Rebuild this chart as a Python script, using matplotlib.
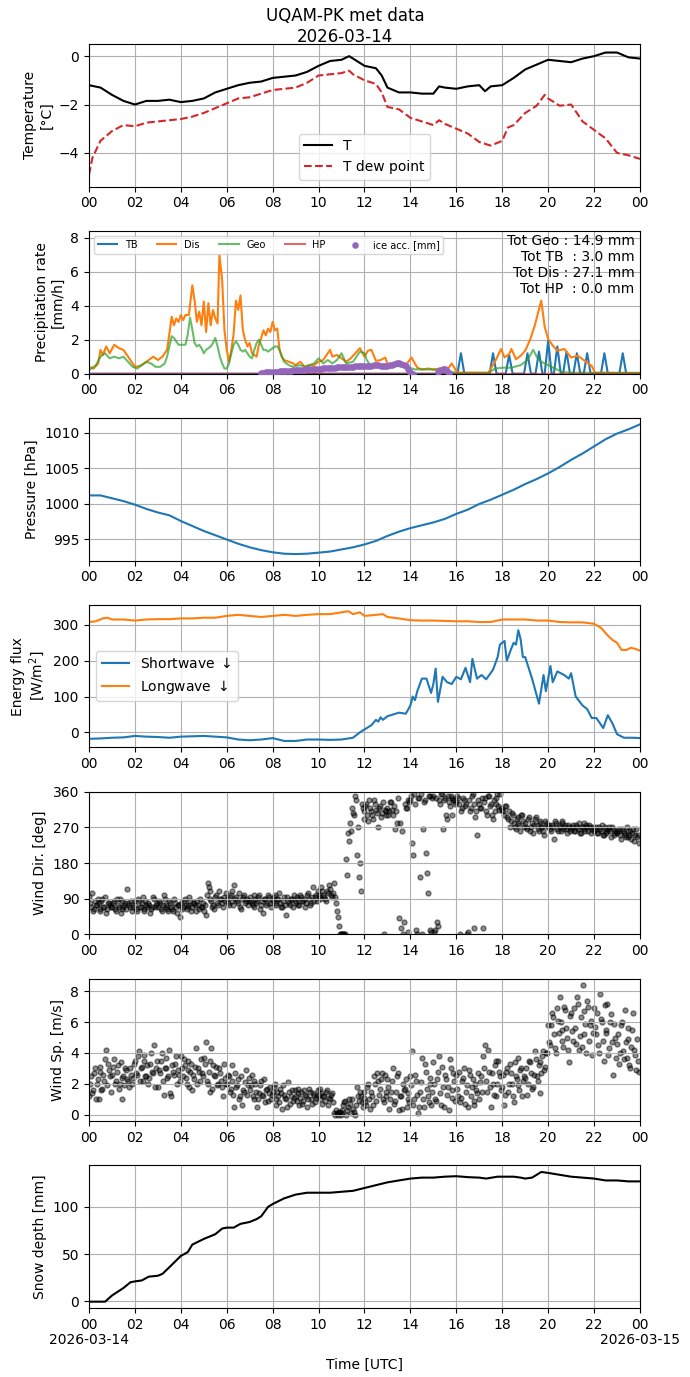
import numpy as np
import matplotlib
matplotlib.use('Agg')
import matplotlib.pyplot as plt

# ---- temperature (hours UTC) ----
temp_t = [0, 0.5, 1, 1.5, 2, 2.5, 3, 3.5, 4, 4.5, 5, 5.5, 6, 6.5, 7, 7.5, 8, 8.5, 9, 9.5,
          10, 10.5, 11, 11.33, 11.5, 12, 12.5, 12.75, 13, 13.5, 14, 14.5, 15, 15.25, 15.5,
          16, 16.5, 17, 17.25, 17.5, 18, 18.5, 19, 19.5, 20, 20.5, 21, 21.5, 22, 22.5, 23, 23.5, 24]
temp_T = [-1.2, -1.3, -1.6, -1.85, -2.0, -1.85, -1.85, -1.8, -1.9, -1.85, -1.75, -1.5, -1.35, -1.2,
          -1.1, -1.05, -0.9, -0.85, -0.8, -0.65, -0.4, -0.2, -0.15, 0.0, -0.1, -0.4, -0.5, -0.8,
          -1.3, -1.5, -1.5, -1.55, -1.55, -1.25, -1.3, -1.35, -1.25, -1.2, -1.45, -1.25, -1.2,
          -0.9, -0.55, -0.35, -0.15, -0.2, -0.25, -0.1, 0.0, 0.15, 0.15, -0.05, -0.1]
dew_t = [0, 0.15, 0.5, 1, 1.5, 2, 2.5, 3, 3.5, 4, 4.5, 5, 5.5, 6, 6.5, 7, 7.5, 8, 8.5, 9, 9.5,
         10, 10.5, 11, 11.33, 11.5, 12, 12.5, 12.75, 13, 13.5, 14, 14.5, 15, 15.25, 15.5, 16,
         16.5, 17, 17.5, 18, 18.25, 18.5, 19, 19.5, 19.85, 20, 20.5, 21, 21.5, 22, 22.5, 23, 23.5, 24]
dew_T = [-4.9, -4.2, -3.5, -3.1, -2.85, -2.9, -2.75, -2.7, -2.65, -2.6, -2.5, -2.35, -2.15, -1.95,
         -1.75, -1.7, -1.55, -1.4, -1.35, -1.3, -1.1, -0.8, -0.75, -0.7, -0.6, -0.75, -1.0, -1.15,
         -1.5, -2.1, -2.2, -2.55, -2.7, -2.85, -2.65, -2.8, -3.0, -3.2, -3.55, -3.7, -3.5, -2.95,
         -2.85, -2.35, -2.05, -1.6, -1.75, -2.05, -2.0, -2.7, -3.05, -3.4, -4.0, -4.1, -4.25]

# ---- precipitation rate [mm/h] ----
dis_t = [0.0, 0.2, 0.4, 0.5, 0.6, 0.75, 0.9, 1.1, 1.3, 1.5, 1.7, 1.9, 2.0, 2.2, 2.4, 2.6, 2.8,
         3.0, 3.2, 3.4, 3.5, 3.6, 3.7, 3.8, 3.9, 4.0, 4.1, 4.2, 4.35, 4.5, 4.6, 4.7, 4.8, 4.9,
         5.0, 5.1, 5.2, 5.3, 5.4, 5.5, 5.6, 5.68, 5.8, 5.9, 6.0, 6.1, 6.2, 6.3, 6.4, 6.5, 6.6,
         6.7, 6.8, 6.9, 7.0, 7.1, 7.2, 7.3, 7.4, 7.5, 7.6, 7.7, 7.8, 7.9, 8.0, 8.1, 8.2, 8.3,
         8.4, 8.5, 8.7, 8.9, 9.0, 9.2, 9.4, 9.6, 9.8, 10.0, 10.2, 10.4, 10.5, 10.6, 10.8, 11.0,
         11.2, 11.4, 11.6, 11.8, 12.0, 12.15, 12.3, 12.5, 12.7, 12.9, 13.0, 13.2, 13.4, 13.6,
         13.8, 14.05, 14.3, 14.5, 14.8, 15.0, 15.3, 15.6, 15.8, 16.0, 16.1, 17.4, 17.7, 17.95,
         18.1, 18.3, 18.4, 18.6, 18.8, 19.0, 19.2, 19.4, 19.7, 19.85, 20.0, 20.2, 20.4, 20.7,
         21.0, 21.3, 21.6, 21.9, 22.05, 24.0]
dis_v = [0.4, 0.3, 0.6, 1.4, 1.1, 1.6, 1.2, 1.7, 1.5, 1.4, 1.0, 0.6, 0.4, 0.45, 0.6, 0.8, 1.0,
         0.8, 1.0, 1.4, 2.35, 3.35, 2.85, 3.25, 3.05, 3.45, 3.15, 3.45, 3.45, 5.2, 4.3, 3.05, 3.65,
         2.85, 4.25, 2.45, 4.15, 2.85, 3.75, 3.25, 2.95, 7.0, 5.5, 2.55, 1.4, 0.7, 1.4, 2.35, 4.3,
         3.75, 4.6, 2.55, 2.0, 1.6, 1.8, 1.2, 1.1, 1.0, 1.7, 2.1, 2.55, 2.25, 2.65, 2.45, 3.05,
         2.55, 2.65, 1.4, 1.0, 0.8, 0.7, 0.6, 0.5, 0.7, 0.4, 0.5, 0.5, 0.7, 0.8, 1.2, 1.4, 1.0,
         1.1, 0.9, 0.7, 0.9, 1.2, 1.5, 1.0, 1.35, 1.4, 0.75, 0.8, 0.95, 0.6, 0.5, 0.7, 0.55, 0.5,
         0.95, 0.35, 0.25, 0.3, 0.25, 0.3, 0.2, 0.6, 0.15, 0.05, 0.05, 0.75, 1.45, 0.95, 1.15,
         1.45, 0.85, 1.05, 1.35, 1.95, 2.75, 4.3, 2.75, 2.05, 1.65, 1.35, 1.45, 0.95, 1.05, 0.75,
         0.45, 0.05, 0.02]
geo_t = [0.0, 0.3, 0.5, 0.7, 0.9, 1.1, 1.3, 1.5, 1.7, 1.9, 2.1, 2.3, 2.5, 2.7, 2.9, 3.1, 3.3,
         3.4, 3.5, 3.6, 3.7, 3.8, 3.9, 4.0, 4.2, 4.3, 4.4, 4.5, 4.6, 4.7, 4.8, 4.9, 5.0, 5.1,
         5.2, 5.3, 5.4, 5.5, 5.6, 5.7, 5.8, 5.9, 6.0, 6.1, 6.2, 6.3, 6.4, 6.5, 6.6, 6.7, 6.8,
         6.9, 7.0, 7.1, 7.2, 7.3, 7.4, 7.5, 7.6, 7.7, 7.8, 7.9, 8.0, 8.1, 8.2, 8.3, 8.4, 8.5,
         8.7, 8.9, 9.0, 9.2, 9.4, 9.6, 9.8, 10.0, 10.2, 10.4, 10.6, 10.8, 11.0, 11.2, 11.5,
         11.8, 12.0, 12.1, 12.3, 12.6, 13.0, 13.4, 13.8, 14.2, 14.8, 15.4, 16.0, 17.4, 17.7,
         18.0, 18.4, 18.8, 19.1, 19.35, 19.5, 19.7, 20.0, 20.3, 20.6, 21.0, 24.0]
geo_v = [0.2, 0.5, 1.0, 1.2, 0.9, 1.0, 0.9, 1.0, 0.7, 0.4, 0.3, 0.5, 0.7, 0.6, 0.4, 0.4, 0.6,
         1.0, 1.6, 2.2, 2.1, 1.9, 1.7, 1.7, 1.7, 2.3, 3.3, 2.6, 1.8, 1.6, 1.7, 1.5, 1.2, 1.4,
         1.5, 1.6, 1.8, 2.1, 1.6, 1.0, 0.6, 0.3, 0.3, 0.6, 1.2, 1.7, 1.9, 1.7, 1.4, 1.3, 1.4,
         1.2, 1.0, 0.9, 1.4, 1.8, 2.0, 1.7, 1.4, 1.4, 1.3, 1.4, 1.5, 1.6, 1.6, 1.4, 1.0, 0.7,
         0.5, 0.4, 0.45, 0.5, 0.4, 0.5, 0.6, 0.9, 0.6, 0.8, 0.6, 0.8, 1.2, 0.6, 0.7,
         1.3, 1.2, 0.8, 0.4, 0.5, 0.35, 0.45, 0.4, 0.25, 0.25, 0.2, 0.05, 0.05, 0.3,
         0.35, 0.35, 0.5, 0.8, 1.4, 1.0, 0.7, 0.5, 0.3, 0.1, 0.05, 0.05]
tb_t = [0.0, 16.05, 16.2, 16.35, 17.45, 17.6, 17.75, 18.15, 18.3, 18.45, 18.95, 19.1, 19.25,
        19.45, 19.6, 19.75, 19.85, 20.0, 20.15, 20.25, 20.4, 20.55, 20.65, 20.8, 20.95, 21.1,
        21.25, 21.4, 21.55, 21.7, 21.85, 22.3, 22.45, 22.6, 23.1, 23.25, 23.4, 24.0]
tb_v = [0.0, 0.0, 1.2, 0.0, 0.0, 1.2, 0.0, 0.0, 1.1, 0.0, 0.0, 1.2, 0.0,
        0.0, 1.3, 0.0, 0.0, 1.95, 0.0, 0.0, 1.6, 0.0, 0.0, 1.3, 0.0, 0.0,
        1.2, 0.0, 0.0, 1.2, 0.0, 0.0, 1.2, 0.0, 0.0, 1.2, 0.0, 0.0]
hp_t = [0.0, 24.0]
hp_v = [0.0, 0.0]
ice_t = [7.5, 7.6, 7.7, 7.8, 7.9, 8.0, 8.1, 8.2, 8.3, 8.4, 8.5, 8.6, 8.7, 8.8, 8.9, 9.0,
         9.1, 9.2, 9.3, 9.4, 9.5, 9.6, 9.7, 9.8, 9.9, 10.0, 10.1, 10.2, 10.3, 10.4, 10.5,
         10.6, 10.7, 10.8, 10.9, 11.0, 11.1, 11.2, 11.3, 11.4, 11.5, 11.6, 11.7, 11.8, 11.9,
         12.0, 12.1, 12.2, 12.3, 12.4, 12.5, 12.6, 12.7, 12.8, 12.9, 13.0, 13.1, 13.2, 13.3,
         13.4, 13.5, 13.6, 13.7, 13.8, 13.9, 14.0, 14.1, 15.2, 15.3, 15.4, 15.5, 15.6, 15.7]
ice_v = [0.03, 0.05, 0.07, 0.08, 0.1, 0.1, 0.12, 0.12, 0.14, 0.15, 0.16, 0.17, 0.17, 0.18,
         0.2, 0.2, 0.21, 0.22, 0.23, 0.24, 0.25, 0.26, 0.27, 0.28, 0.29, 0.3, 0.3, 0.31, 0.32,
         0.33, 0.34, 0.35, 0.36, 0.37, 0.38, 0.38, 0.39, 0.4, 0.41, 0.42, 0.42, 0.43, 0.44,
         0.45, 0.45, 0.46, 0.46, 0.47, 0.47, 0.48, 0.48, 0.48, 0.47, 0.46, 0.46, 0.47, 0.48,
         0.5, 0.55, 0.6, 0.65, 0.55, 0.5, 0.45, 0.3, 0.1, 0.0, 0.1, 0.2, 0.3, 0.25, 0.15, 0.05]
totals_text = 'Tot Geo : 14.9 mm\nTot TB  : 3.0 mm\nTot Dis : 27.1 mm\nTot HP  : 0.0 mm'

# ---- pressure [hPa], every 30 min ----
pres_t = np.arange(0, 24.5, 0.5)
pres_v = [1001.2, 1001.2, 1000.8, 1000.4, 999.9, 999.3, 998.8, 998.4, 997.6, 996.9, 996.2,
          995.6, 995.0, 994.4, 993.9, 993.5, 993.2, 993.0, 992.95, 993.0, 993.15, 993.3, 993.6,
          993.9, 994.3, 994.8, 995.5, 996.1, 996.6, 997.0, 997.4, 997.9, 998.6, 999.2, 1000.0,
          1000.6, 1001.3, 1002.0, 1002.8, 1003.5, 1004.3, 1005.2, 1006.2, 1007.1, 1008.1,
          1009.1, 1009.9, 1010.5, 1011.2]

# ---- radiation [W/m2] ----
sw_t = [0, 0.5, 1, 1.5, 2, 2.5, 3, 3.5, 4, 4.5, 5, 5.5, 6, 6.5, 7, 7.5, 8, 8.5, 9, 9.5, 10,
        10.5, 11, 11.5, 11.8, 12, 12.3, 12.5, 12.6, 12.7, 12.8, 13, 13.5, 13.8, 14, 14.1,
        14.2, 14.3, 14.5, 14.7, 14.9, 15.0, 15.1, 15.2, 15.4, 15.6, 15.8, 16.0, 16.2, 16.4,
        16.6, 16.7, 16.9, 17.1, 17.3, 17.6, 17.8, 17.9, 18.1, 18.2, 18.4, 18.5, 18.6, 18.7,
        18.8, 18.9, 19.0, 19.1, 19.3, 19.6, 19.8, 19.9, 20.1, 20.2, 20.4, 20.7, 20.9, 21.0,
        21.2, 21.5, 21.7, 21.9, 22.1, 22.4, 22.6, 22.8, 23.0, 23.3, 23.7, 24]
sw_v = [-18, -17, -15, -14, -10, -12, -13, -15, -12, -11, -10, -12, -14, -20, -22, -20, -16,
        -24, -24, -20, -20, -21, -20, -15, 0, 8, 20, 35, 30, 42, 35, 45, 55, 52, 75, 100, 90,
        115, 150, 150, 110, 135, 178, 85, 155, 140, 135, 155, 148, 180, 140, 205, 150, 160,
        148, 175, 210, 245, 255, 200, 235, 250, 245, 285, 260, 210, 210, 190, 150, 80, 160,
        115, 185, 140, 170, 160, 150, 165, 100, 75, 65, 40, 40, 12, 48, 25, -5, -15, -15, -16]
lw_t = [0, 0.3, 0.6, 0.8, 1.0, 1.5, 2.0, 2.5, 3.0, 3.5, 4.0, 4.5, 5.0, 5.5, 6.0, 6.5, 7.0,
        7.5, 8.0, 8.5, 9.0, 9.5, 10.0, 10.5, 11.0, 11.3, 11.5, 11.8, 12.0, 12.5, 12.8, 13.0,
        13.5, 14.0, 14.5, 15.0, 15.5, 16.0, 16.5, 17.0, 17.5, 18.0, 18.5, 19.0, 19.5, 20.0,
        20.5, 21.0, 21.5, 22.0, 22.3, 22.6, 22.8, 23.0, 23.2, 23.4, 23.6, 23.8, 24.0]
lw_v = [308, 310, 318, 320, 315, 315, 312, 315, 316, 316, 318, 318, 320, 320, 325, 328, 325,
        322, 325, 328, 325, 328, 330, 330, 335, 338, 330, 335, 325, 328, 330, 322, 318, 313,
        312, 312, 311, 310, 310, 308, 308, 315, 315, 315, 312, 312, 308, 307, 307, 303, 292,
        270, 258, 250, 230, 230, 236, 233, 228]

# ---- wind, two interleaved 5-min sample sets (on the hour and half past 5 min) ----
wind_t1 = np.arange(288) / 12.0
wind_t2 = np.arange(288) / 12.0 + 1.0 / 24.0
wdir1 = [95, 70, 60, 85, 75, 80, 65, 90, 70, 55, 80, 75,
         70, 85, 60, 75, 90, 65, 70, 80, 115, 75, 85, 70,
         75, 60, 85, 70, 95, 65, 75, 80, 55, 70, 90, 75,
         70, 80, 60, 100, 75, 65, 85, 70, 60, 80, 55, 75,
         80, 70, 90, 65, 75, 85, 70, 80, 60, 75, 90, 70,
         60, 50, 130, 110, 85, 75, 95, 80, 110, 90, 70, 85,
         90, 75, 100, 85, 125, 95, 80, 70, 90, 100, 85, 75,
         95, 80, 70, 90, 85, 100, 75, 55, 90, 80, 95, 70,
         85, 100, 75, 90, 80, 70, 95, 50, 85, 75, 90, 100,
         80, 90, 75, 95, 85, 70, 100, 90, 80, 120, 95, 85,
         100, 90, 110, 95, 85, 105, 115, 95, 130, 80, 45, 0,
         0, 0, 0, 150, 235, 260, 305, 350, 200, 145, 110, 320,
         310, 330, 285, 320, 300, 340, 315, 270, 325, 305, 0, 300,
         320, 310, 335, 300, 265, 280, 40, 15, 0, 330, 320, 340,
         340, 230, 355, 10, 345, 145, 0, 335, 205, 105, 350, 5,
         350, 10, 30, 340, 355, 265, 345, 290, 335, 350, 300, 340,
         335, 345, 0, 320, 340, 330, 5, 310, 350, 15, 295, 250,
         330, 320, 15, 345, 300, 350, 330, 290, 310, 345, 325, 355,
         315, 300, 325, 290, 270, 305, 280, 265, 295, 275, 300, 285,
         280, 265, 295, 270, 255, 290, 275, 260, 285, 270, 250, 280,
         270, 265, 275, 240, 280, 260, 270, 285, 265, 275, 255, 270,
         265, 275, 260, 270, 280, 255, 270, 265, 275, 260, 270, 265,
         260, 270, 255, 265, 275, 250, 265, 260, 270, 245, 265, 255,
         255, 265, 240, 260, 250, 270, 245, 260, 255, 235, 265, 250]
wdir2 = [80, 105, 65, 75, 90, 60, 85, 70, 95, 65, 80, 70,
         80, 65, 90, 70, 55, 85, 75, 65, 80, 70, 60, 85,
         65, 90, 70, 80, 60, 85, 70, 75, 65, 95, 70, 80,
         85, 65, 75, 90, 70, 60, 80, 65, 90, 70, 75, 45,
         65, 85, 75, 70, 95, 60, 80, 75, 85, 65, 70, 80,
         75, 100, 120, 90, 70, 65, 100, 75, 90, 80, 95, 105,
         80, 95, 110, 75, 90, 85, 105, 65, 95, 80, 90, 85,
         85, 75, 100, 80, 95, 65, 85, 90, 75, 100, 80, 90,
         95, 80, 90, 105, 70, 85, 75, 95, 80, 90, 70, 85,
         95, 75, 100, 85, 90, 80, 105, 75, 95, 85, 100, 110,
         95, 120, 100, 90, 110, 125, 100, 105, 95, 60, 20, 0,
         0, 0, 190, 255, 280, 320, 300, 340, 270, 180, 330, 290,
         325, 300, 340, 310, 290, 330, 305, 320, 295, 335, 315, 310,
         300, 335, 315, 325, 310, 345, 280, 260, 30, 320, 5, 335,
         350, 200, 330, 0, 345, 355, 265, 340, 155, 350, 10, 345,
         5, 345, 20, 330, 355, 340, 300, 350, 325, 345, 340, 330,
         350, 330, 310, 345, 325, 0, 340, 320, 355, 330, 310, 340,
         320, 345, 335, 310, 350, 325, 300, 340, 330, 355, 315, 320,
         310, 325, 295, 310, 285, 300, 270, 290, 280, 260, 300, 270,
         270, 290, 260, 280, 275, 295, 265, 280, 270, 260, 285, 275,
         275, 260, 270, 285, 265, 275, 260, 280, 270, 265, 275, 260,
         270, 260, 275, 265, 255, 270, 280, 260, 270, 275, 255, 270,
         265, 255, 270, 260, 250, 270, 255, 265, 260, 270, 250, 260,
         260, 250, 265, 255, 245, 260, 250, 240, 265, 250, 245, 230]
wspd1 = [1.2, 2.5, 1.6, 3.0, 2.0, 1.0, 2.8, 1.7, 2.2, 4.2, 3.3, 2.5,
         2.6, 3.6, 2.2, 3.2, 2.0, 1.0, 2.5, 3.0, 2.3, 1.8, 2.6, 2.4,
         3.5, 2.6, 4.1, 3.0, 2.2, 3.5, 2.5, 2.0, 3.3, 2.8, 4.5, 3.0,
         1.8, 2.7, 4.0, 1.3, 3.0, 2.4, 4.2, 1.2, 2.8, 3.3, 2.0, 2.6,
         3.8, 2.5, 3.2, 2.0, 3.5, 2.8, 1.6, 2.3, 4.3, 3.0, 2.2, 2.7,
         3.7, 4.7, 2.0, 1.5, 4.3, 3.2, 2.5, 1.9, 3.0, 2.2, 1.2, 2.4,
         2.0, 2.5, 1.7, 3.2, 0.5, 1.8, 2.3, 1.2, 0.6, 1.5, 2.9, 1.9,
         1.6, 2.6, 1.0, 2.0, 0.5, 1.4, 2.2, 1.2, 0.8, 1.7, 1.4, 1.0,
         1.5, 2.0, 0.6, 1.2, 1.7, 0.4, 1.3, 1.0, 2.1, 0.7, 1.6, 1.1,
         1.2, 1.7, 0.6, 1.5, 0.9, 1.3, 0.5, 1.7, 1.0, 1.4, 0.8, 1.2,
         1.3, 1.7, 0.7, 1.2, 1.5, 0.6, 1.0, 1.4, 0.1, 0.3, 0.0, 0.2,
         0.1, 0.6, 0.9, 0.3, 1.0, 0.1, 0.4, 0.0, 1.8, 0.9, 1.2, 0.5,
         1.5, 0.6, 2.0, 0.4, 1.2, 2.5, 0.9, 2.2, 1.7, 2.7, 0.8, 1.5,
         2.3, 0.4, 1.5, 3.0, 0.9, 2.5, 0.3, 1.2, 2.0, 1.7, 0.5, 1.0,
         2.5, 4.1, 1.0, 2.2, 0.1, 1.5, 3.7, 0.5, 2.8, 1.2, 2.0, 0.6,
         3.4, 1.0, 2.3, 3.8, 0.6, 1.8, 2.6, 1.3, 0.3, 3.0, 1.6, 2.2,
         2.6, 1.2, 0.8, 2.2, 3.0, 1.5, 0.5, 2.6, 1.8, 0.9, 2.0, 1.4,
         1.0, 2.5, 3.8, 4.5, 1.5, 2.8, 0.5, 2.0, 3.2, 1.2, 3.5, 2.5,
         1.8, 0.6, 2.8, 1.5, 3.3, 2.0, 0.8, 2.5, 3.7, 1.6, 3.0, 2.2,
         2.4, 1.3, 3.5, 2.7, 1.8, 4.1, 2.5, 3.2, 1.4, 3.8, 2.9, 4.0,
         5.8, 4.5, 6.6, 5.2, 4.0, 6.1, 7.6, 5.5, 4.4, 6.8, 5.0, 3.4,
         6.6, 4.8, 5.6, 7.6, 4.2, 6.3, 8.4, 5.2, 4.0, 7.0, 5.8, 3.9,
         6.9, 5.2, 4.5, 7.8, 6.0, 3.5, 5.5, 7.2, 4.3, 6.5, 2.6, 5.0,
         4.6, 3.3, 5.8, 4.1, 6.8, 3.7, 4.9, 3.0, 5.5, 4.2, 2.9, 3.5]
wspd2 = [2.0, 1.4, 2.7, 1.0, 2.3, 3.1, 1.6, 2.6, 3.6, 1.9, 2.9, 1.5,
         3.1, 2.0, 2.8, 1.7, 3.4, 2.4, 1.9, 2.9, 2.2, 3.0, 2.0, 3.3,
         2.7, 3.8, 2.2, 3.1, 3.9, 2.5, 3.2, 2.4, 4.0, 2.7, 1.8, 3.5,
         2.9, 3.5, 2.2, 3.0, 3.7, 2.5, 1.4, 3.2, 2.6, 3.8, 2.9, 2.2,
         3.0, 3.6, 2.4, 2.9, 1.8, 3.3, 2.6, 3.1, 2.0, 2.8, 3.6, 2.5,
         3.3, 2.2, 2.8, 3.5, 1.7, 2.6, 3.1, 2.0, 2.7, 1.8, 3.3, 2.0,
         2.6, 1.5, 2.2, 1.3, 2.7, 1.9, 1.0, 2.5, 1.6, 2.1, 1.3, 2.4,
         1.9, 1.2, 2.2, 1.5, 1.0, 1.9, 1.3, 2.3, 1.6, 0.9, 1.8, 1.3,
         1.8, 1.0, 1.5, 0.8, 1.4, 1.9, 1.1, 0.5, 1.5, 1.2, 0.9, 1.6,
         0.9, 1.4, 1.1, 0.7, 1.6, 1.2, 1.0, 1.5, 0.7, 1.3, 1.1, 1.6,
         1.0, 1.4, 1.2, 0.9, 1.6, 1.1, 1.3, 0.8, 0.0, 0.1, 0.2, 0.0,
         0.3, 0.8, 0.0, 0.5, 0.7, 1.0, 0.2, 0.6, 1.2, 1.5, 0.8, 1.1,
         0.8, 1.8, 1.0, 1.5, 0.6, 2.0, 2.7, 1.3, 2.3, 1.0, 2.6, 1.2,
         1.8, 1.0, 2.2, 0.7, 1.5, 2.7, 1.2, 0.4, 1.6, 2.3, 1.4, 0.8,
         1.9, 0.6, 2.6, 1.3, 0.5, 2.1, 1.0, 3.3, 1.7, 0.8, 2.4, 1.5,
         2.0, 0.9, 2.8, 1.4, 3.1, 0.5, 2.3, 1.8, 3.6, 1.1, 2.7, 0.9,
         1.7, 2.8, 1.1, 2.4, 0.7, 1.9, 2.9, 1.2, 2.3, 0.6, 1.6, 2.7,
         2.1, 1.5, 3.0, 2.2, 4.2, 1.8, 2.7, 1.3, 3.5, 2.0, 2.8, 1.6,
         2.6, 1.3, 3.0, 2.0, 2.7, 1.2, 3.4, 2.3, 1.9, 2.9, 1.2, 2.5,
         3.0, 2.0, 3.4, 1.7, 2.6, 3.6, 2.2, 3.4, 2.7, 4.1, 3.1, 4.0,
         4.7, 5.8, 6.3, 4.3, 6.9, 5.3, 6.0, 4.8, 7.0, 5.6, 4.2, 6.4,
         5.4, 6.9, 4.6, 7.2, 5.1, 4.4, 6.7, 5.9, 7.4, 4.8, 6.1, 5.3,
         5.7, 6.6, 4.0, 6.2, 4.8, 7.1, 5.3, 3.9, 6.0, 4.7, 5.9, 3.7,
         5.2, 4.0, 6.0, 3.6, 4.7, 5.6, 3.2, 4.4, 6.6, 3.9, 4.9, 2.8]

# ---- snow depth [mm] ----
snow_t = [0, 0.5, 0.7, 1.0, 1.5, 1.8, 2.0, 2.3, 2.6, 3.0, 3.2, 3.5, 4.0, 4.3, 4.5, 5.0, 5.5,
          5.8, 6.0, 6.3, 6.6, 7.0, 7.3, 7.5, 7.8, 8.0, 8.5, 9.0, 9.5, 10.0, 10.5, 11.0, 11.5,
          12.0, 12.5, 13.0, 13.5, 14.0, 14.5, 15.0, 15.5, 16.0, 16.5, 17.0, 17.3, 17.8, 18.5,
          18.8, 19.0, 19.3, 19.5, 19.7, 20.0, 20.5, 21.0, 21.5, 22.0, 22.5, 23.0, 23.5, 24.0]
snow_v = [-0.5, -0.5, -0.5, 6, 14, 20, 21, 22, 26, 27, 29, 36, 48, 52, 60, 66, 71, 77, 78, 78,
          82, 84, 87, 90, 100, 103, 109, 113, 115, 115, 115, 116, 117, 120, 123, 126, 128, 130,
          131, 131, 132, 132.5, 131.5, 131, 130, 132, 132, 131, 130, 131, 134, 137, 136, 134,
          132, 131, 130, 128, 128, 127, 127]

hour_ticks = np.arange(0, 25, 2)
hour_labels = ['%02d' % (h % 24) for h in hour_ticks]
start_date = '2026-03-14'
end_date = '2026-03-15'

fig, axs = plt.subplots(7, 1, figsize=(6.9, 13.77), dpi=100)
fig.subplots_adjust(left=0.129, right=0.9275, top=0.968, bottom=0.05, hspace=0.31)
fig.suptitle('UQAM-PK met data\n' + start_date, y=0.995, fontsize=12)

ax = axs[0]
ax.plot(temp_t, temp_T, color='k', lw=1.5, label='T')
ax.plot(dew_t, dew_T, color='C3', ls='--', lw=1.5, label='T dew point')
ax.set_ylim(-5.4, 0.5)
ax.set_ylabel('Temperature\n[°C]')
ax.legend(loc='lower center')

ax = axs[1]
ax.plot(tb_t, tb_v, color='C0', lw=1.5, label='TB')
ax.plot(dis_t, dis_v, color='C1', lw=1.5, label='Dis')
ax.plot(geo_t, geo_v, color='C2', lw=1.5, alpha=0.7, label='Geo')
ax.plot(hp_t, hp_v, color='C3', lw=1.5, alpha=0.7, label='HP')
ax.scatter(ice_t, ice_v, s=14, color='C4', label='ice acc. [mm]', zorder=3)
ax.set_ylim(0, 8.4)
ax.set_ylabel('Precipitation rate\n[mm/h]')
ax.legend(loc='upper left', ncol=5, fontsize=7)
ax.text(0.99, 0.98, totals_text, transform=ax.transAxes, ha='right', va='top', fontsize=10)

ax = axs[2]
ax.plot(pres_t, pres_v, color='C0', lw=1.5)
ax.set_ylabel('Pressure [hPa]')

ax = axs[3]
ax.plot(sw_t, sw_v, color='C0', lw=1.5, label='Shortwave $\\downarrow$')
ax.plot(lw_t, lw_v, color='C1', lw=1.5, label='Longwave $\\downarrow$')
ax.set_ylabel('Energy flux\n[W/m$^2$]')
ax.legend(loc='center left')

ax = axs[4]
ax.scatter(np.concatenate([wind_t1, wind_t2]), wdir1 + wdir2, s=13, color='k', alpha=0.45)
ax.set_ylim(0, 360)
ax.set_yticks([0, 90, 180, 270, 360])
ax.set_ylabel('Wind Dir. [deg]')

ax = axs[5]
ax.scatter(np.concatenate([wind_t1, wind_t2]), wspd1 + wspd2, s=13, color='k', alpha=0.45)
ax.set_ylabel('Wind Sp. [m/s]')

ax = axs[6]
ax.plot(snow_t, snow_v, color='k', lw=1.5)
ax.set_ylabel('Snow depth [mm]')
ax.set_xlabel('Time [UTC]', labelpad=19)
# dates under the first and last tick
for x, d in [(0, start_date), (24, end_date)]:
    ax.annotate(d, xy=(x, 0), xycoords=('data', 'axes fraction'), xytext=(0, -26),
                textcoords='offset points', ha='center', va='baseline', fontsize=10)

for ax in axs:
    ax.set_xlim(0, 24)
    ax.set_xticks(hour_ticks)
    ax.set_xticklabels(hour_labels)
    ax.grid(True)

fig.savefig('out.png', dpi=100)
